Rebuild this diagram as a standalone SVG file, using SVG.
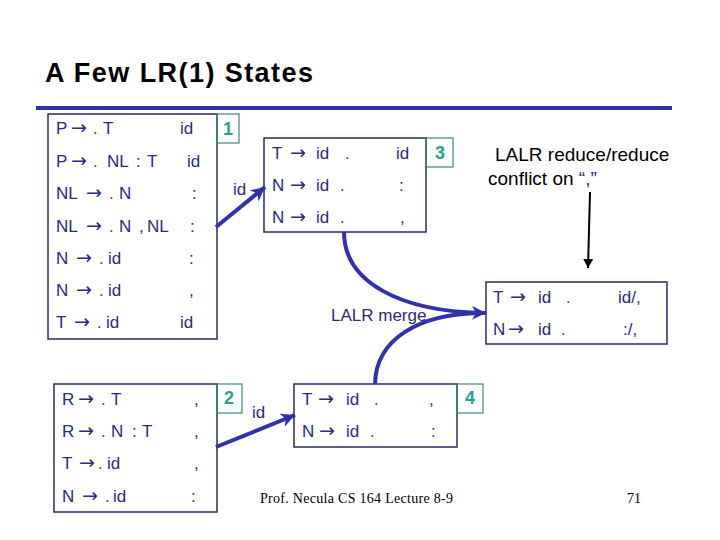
<svg xmlns="http://www.w3.org/2000/svg" width="720" height="540" viewBox="0 0 720 540">
<style>
.t{font-family:"Liberation Sans","DejaVu Sans",sans-serif;font-size:17px;fill:#2a2a80}
.a{font-family:"DejaVu Sans",sans-serif;font-size:19px}
.r{fill:#c01010}
.box{fill:none;stroke:#2b2b6b;stroke-width:1.5}
.nb{fill:none;stroke:#3a8a70;stroke-width:1.2}
.num{font-family:"Liberation Sans","DejaVu Sans",sans-serif;font-size:18px;font-weight:bold;fill:#2aa090;text-anchor:middle}
.conn{fill:none;stroke:#3030b0;stroke-width:4}
.note{font-family:"Liberation Sans","DejaVu Sans",sans-serif;font-size:19px;fill:#000}
</style>
<defs>
<marker id="ah" markerUnits="userSpaceOnUse" markerWidth="16" markerHeight="14" refX="14" refY="7" orient="auto">
<path d="M0,0 L14,7 L0,14 L4,7 Z" fill="#3030b0"/>
</marker>
<marker id="bk" markerUnits="userSpaceOnUse" markerWidth="10" markerHeight="10" refX="9" refY="5" orient="auto">
<path d="M0,0 L9,5 L0,10 Z" fill="#000"/>
</marker>
</defs>
<rect width="720" height="540" fill="#fff"/>
<text x="45" y="82" font-family="Liberation Sans,DejaVu Sans,sans-serif" font-size="27" font-weight="bold" fill="#000" textLength="268">A Few LR(1) States</text>
<rect x="36" y="106" width="636" height="4" fill="#3333a0"/>

<g id="state1">
<rect class="box" x="48" y="114" width="169" height="225"/>
<rect class="nb" x="217" y="114" width="22" height="29"/>
<text class="num" x="228" y="135">1</text>
<text class="t" y="134"><tspan x="56">P</tspan><tspan x="71" class="a">→</tspan><tspan x="93" class="r">.</tspan><tspan x="103">T</tspan><tspan x="180">id</tspan></text>
<text class="t" y="167"><tspan x="56">P</tspan><tspan x="71" class="a">→</tspan><tspan x="93" class="r">.</tspan><tspan x="107">NL</tspan><tspan x="136">:</tspan><tspan x="147">T</tspan><tspan x="187">id</tspan></text>
<text class="t" y="199"><tspan x="56">NL</tspan><tspan x="86" class="a">→</tspan><tspan x="109" class="r">.</tspan><tspan x="119">N</tspan><tspan x="192">:</tspan></text>
<text class="t" y="232"><tspan x="56">NL</tspan><tspan x="86" class="a">→</tspan><tspan x="109" class="r">.</tspan><tspan x="119">N</tspan><tspan x="139">,</tspan><tspan x="147">NL</tspan><tspan x="190">:</tspan></text>
<text class="t" y="264"><tspan x="56">N</tspan><tspan x="76" class="a">→</tspan><tspan x="99" class="r">.</tspan><tspan x="108">id</tspan><tspan x="189">:</tspan></text>
<text class="t" y="296"><tspan x="56">N</tspan><tspan x="76" class="a">→</tspan><tspan x="99" class="r">.</tspan><tspan x="108">id</tspan><tspan x="189">,</tspan></text>
<text class="t" y="328"><tspan x="56">T</tspan><tspan x="74" class="a">→</tspan><tspan x="97" class="r">.</tspan><tspan x="106">id</tspan><tspan x="180">id</tspan></text>
</g>

<g id="state3">
<rect class="box" x="264" y="138" width="162" height="94"/>
<rect class="nb" x="426" y="138" width="27" height="29"/>
<text class="num" x="440" y="159">3</text>
<text class="t" y="159"><tspan x="272">T</tspan><tspan x="290" class="a">→</tspan><tspan x="316">id</tspan><tspan x="345" class="r">.</tspan><tspan x="396">id</tspan></text>
<text class="t" y="191"><tspan x="272">N</tspan><tspan x="290" class="a">→</tspan><tspan x="316">id</tspan><tspan x="340" class="r">.</tspan><tspan x="399">:</tspan></text>
<text class="t" y="223"><tspan x="272">N</tspan><tspan x="290" class="a">→</tspan><tspan x="316">id</tspan><tspan x="340" class="r">.</tspan><tspan x="400">,</tspan></text>
</g>

<g id="merged">
<rect class="box" x="486" y="282" width="181" height="62"/>
<text class="t" y="303"><tspan x="493">T</tspan><tspan x="510" class="a">→</tspan><tspan x="538">id</tspan><tspan x="566" class="r">.</tspan><tspan x="618">id/,</tspan></text>
<text class="t" y="335"><tspan x="493">N</tspan><tspan x="508" class="a">→</tspan><tspan x="538">id</tspan><tspan x="561" class="r">.</tspan><tspan x="623">:/,</tspan></text>
</g>

<g id="state2">
<rect class="box" x="54" y="384" width="163" height="128"/>
<rect class="nb" x="217" y="384" width="25" height="29"/>
<text class="num" x="229" y="404">2</text>
<text class="t" y="405"><tspan x="62">R</tspan><tspan x="78" class="a">→</tspan><tspan x="101" class="r">.</tspan><tspan x="111">T</tspan><tspan x="194">,</tspan></text>
<text class="t" y="437"><tspan x="62">R</tspan><tspan x="78" class="a">→</tspan><tspan x="101" class="r">.</tspan><tspan x="111">N</tspan><tspan x="132">:</tspan><tspan x="142">T</tspan><tspan x="194">,</tspan></text>
<text class="t" y="469"><tspan x="62">T</tspan><tspan x="79" class="a">→</tspan><tspan x="98" class="r">.</tspan><tspan x="107">id</tspan><tspan x="194">,</tspan></text>
<text class="t" y="502"><tspan x="62">N</tspan><tspan x="82" class="a">→</tspan><tspan x="105" class="r">.</tspan><tspan x="113">id</tspan><tspan x="191">:</tspan></text>
</g>

<g id="state4">
<rect class="box" x="294" y="384" width="163" height="63"/>
<rect class="nb" x="457" y="384" width="26" height="29"/>
<text class="num" x="470" y="404">4</text>
<text class="t" y="405"><tspan x="302">T</tspan><tspan x="318" class="a">→</tspan><tspan x="346">id</tspan><tspan x="374" class="r">.</tspan><tspan x="429">,</tspan></text>
<text class="t" y="437"><tspan x="302">N</tspan><tspan x="319" class="a">→</tspan><tspan x="346">id</tspan><tspan x="370" class="r">.</tspan><tspan x="431">:</tspan></text>
</g>

<g id="connectors">
<line class="conn" x1="216" y1="227" x2="265" y2="187" marker-end="url(#ah)"/>
<text class="t" x="233" y="195">id</text>
<line class="conn" x1="216" y1="447" x2="295" y2="415" marker-end="url(#ah)"/>
<text class="t" x="252" y="418">id</text>
<path class="conn" d="M344,232 C344,282 400,312 486,313" marker-end="url(#ah)"/>
<path class="conn" d="M375,384 C376,338 420,314 480,313"/>
<text class="t" x="331" y="321" font-size="18">LALR merge</text>
<line x1="590" y1="192" x2="588" y2="268" stroke="#000" stroke-width="2" marker-end="url(#bk)"/>
</g>

<text class="note" x="495" y="161">LALR reduce/reduce</text>
<text class="note" x="488" y="185">conflict on <tspan fill="#2a2a80">“,”</tspan></text>

<text x="260" y="503" font-family="Liberation Serif,serif" font-size="14" fill="#000" textLength="193">Prof. Necula  CS 164  Lecture 8-9</text>
<text x="627" y="503" font-family="Liberation Serif,serif" font-size="14" fill="#000">71</text>
</svg>
